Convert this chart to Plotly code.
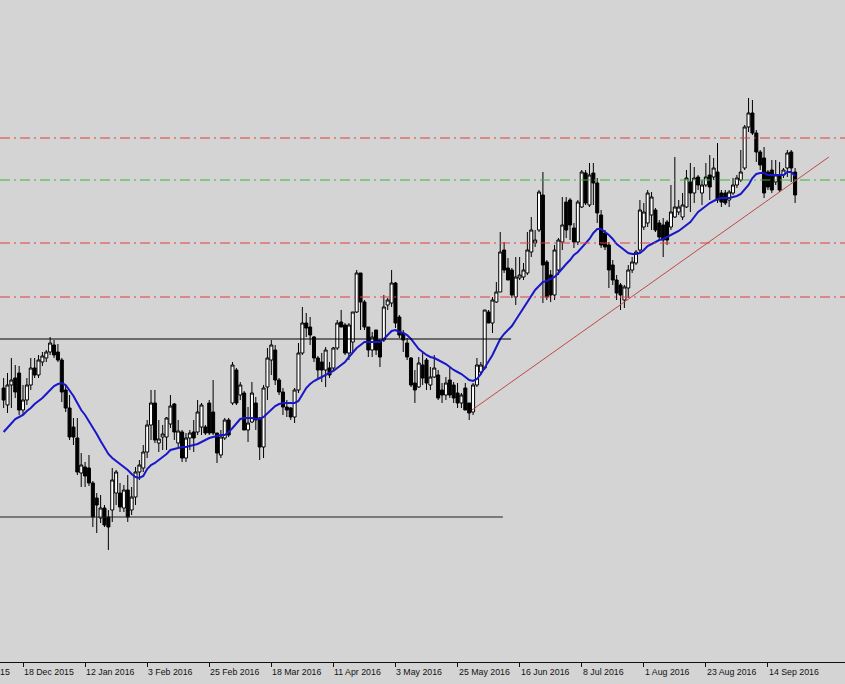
import plotly.graph_objects as go

# ---------------- data (daily bars, price in points) ----------------
bar_open = [
    612, 595, 615, 622, 627, 590, 600, 615, 632, 625,
    638, 642, 648, 655, 648, 640, 610, 592, 573, 562,
    527, 533, 532, 517, 502, 482, 492, 483, 490, 507,
    507, 492, 510, 490, 503, 528, 532, 548, 575, 597,
    557, 563, 563, 576, 596, 557, 568, 542, 562, 568,
    568, 573, 573, 597, 588, 567, 545, 562, 580, 597,
    630, 605, 607, 570, 578, 597, 582, 553, 613, 640,
    650, 620, 608, 593, 592, 583, 610, 647, 677, 673,
    663, 642, 638, 630, 632, 632, 652, 678, 675, 647,
    658, 688, 727, 698, 673, 650, 670, 660, 660, 695,
    697, 717, 683, 667, 657, 642, 617, 613, 635, 640,
    615, 623, 625, 610, 605, 620, 615, 607, 597, 612,
    597, 588, 615, 628, 632, 688, 677, 698, 708, 750,
    732, 730, 703, 722, 723, 727, 748, 757, 770, 805,
    738, 725, 705, 730, 758, 798, 800, 772, 758, 793,
    827, 795, 827, 817, 785, 767, 755, 735, 720, 715,
    700, 712, 730, 737, 750, 773, 777, 785, 790, 777,
    775, 778, 773, 783, 788, 783, 793, 818, 807, 823,
    807, 815, 825, 823, 828, 807, 807, 800, 807, 815,
    820, 832, 873, 887, 867, 848, 842, 828, 830, 818,
    825, 825, 832, 848, 828,
]
bar_high = [
    622, 627, 642, 635, 634, 615, 622, 642, 642, 645,
    648, 650, 663, 660, 656, 642, 615, 605, 582, 582,
    547, 538, 545, 519, 507, 505, 495, 490, 532, 530,
    517, 515, 525, 513, 533, 540, 555, 580, 610, 610,
    580, 575, 583, 605, 597, 580, 570, 567, 570, 580,
    600, 597, 575, 600, 620, 567, 570, 582, 582, 638,
    632, 618, 609, 593, 618, 603, 583, 615, 652, 660,
    655, 622, 612, 600, 593, 612, 657, 693, 687, 683,
    664, 644, 647, 653, 638, 653, 680, 690, 677, 677,
    688, 730, 727, 700, 673, 668, 670, 660, 705, 702,
    730, 718, 685, 670, 662, 643, 630, 643, 648, 642,
    633, 645, 630, 617, 623, 633, 618, 617, 607, 617,
    597, 617, 642, 638, 690, 690, 703, 718, 768, 758,
    742, 732, 743, 743, 737, 768, 783, 770, 810, 828,
    740, 730, 755, 762, 803, 803, 802, 777, 800, 830,
    830, 837, 837, 822, 790, 770, 758, 740, 725, 717,
    715, 735, 743, 750, 800, 797, 810, 808, 792, 780,
    782, 780, 815, 843, 800, 807, 830, 837, 833, 825,
    820, 837, 845, 842, 857, 810, 810, 810, 822, 825,
    850, 875, 902, 900, 870, 850, 853, 830, 840, 840,
    838, 832, 850, 850, 832,
]
bar_low = [
    592, 587, 592, 602, 585, 585, 595, 610, 622, 622,
    634, 638, 645, 642, 638, 598, 588, 560, 555, 525,
    513, 513, 514, 473, 467, 477, 473, 450, 478, 495,
    488, 488, 478, 485, 495, 520, 528, 542, 560, 557,
    548, 550, 550, 572, 560, 553, 538, 538, 550, 548,
    565, 565, 565, 565, 565, 537, 542, 560, 563, 595,
    595, 600, 570, 558, 577, 570, 540, 542, 600, 625,
    615, 605, 585, 583, 580, 577, 607, 645, 663, 655,
    638, 622, 618, 613, 622, 630, 650, 673, 645, 640,
    648, 687, 670, 670, 643, 643, 645, 633, 658, 690,
    693, 672, 662, 648, 640, 613, 597, 612, 615, 610,
    610, 622, 600, 597, 600, 602, 597, 592, 592, 590,
    580, 585, 613, 625, 630, 677, 667, 697, 708, 727,
    720, 702, 695, 720, 720, 725, 743, 753, 768, 697,
    700, 698, 700, 725, 750, 762, 760, 752, 755, 792,
    795, 793, 795, 777, 752, 750, 712, 715, 700, 690,
    692, 702, 727, 735, 747, 770, 773, 770, 768, 760,
    743, 755, 770, 782, 785, 780, 792, 788, 797, 810,
    795, 813, 800, 820, 797, 793, 795, 793, 805, 812,
    818, 830, 868, 865, 838, 830, 802, 810, 807, 815,
    808, 822, 823, 818, 797,
]
bar_close = [
    600, 615, 620, 608, 590, 600, 615, 632, 625, 640,
    644, 648, 657, 645, 640, 608, 592, 563, 563, 528,
    535, 524, 517, 483, 495, 492, 475, 473, 520, 528,
    493, 510, 483, 503, 528, 535, 548, 575, 597, 560,
    561, 566, 582, 594, 568, 569, 542, 562, 567, 562,
    588, 595, 567, 567, 567, 547, 563, 580, 565, 635,
    597, 615, 570, 577, 607, 580, 553, 612, 642, 655,
    620, 608, 593, 590, 583, 610, 647, 677, 672, 665,
    642, 630, 630, 650, 625, 652, 677, 673, 647, 675,
    688, 727, 698, 673, 650, 663, 650, 643, 693, 700,
    717, 677, 665, 660, 643, 615, 610, 637, 622, 617,
    623, 632, 602, 605, 617, 605, 602, 597, 605, 590,
    587, 615, 635, 635, 690, 677, 700, 708, 748, 730,
    720, 705, 723, 725, 730, 750, 770, 760, 808, 735,
    703, 705, 750, 760, 775, 770, 775, 758, 798, 828,
    797, 825, 817, 787, 755, 753, 730, 720, 707, 705,
    713, 730, 738, 748, 790, 788, 807, 803, 770, 763,
    760, 760, 788, 793, 793, 795, 822, 807, 822, 815,
    815, 823, 813, 832, 800, 798, 797, 808, 815, 822,
    828, 873, 887, 867, 848, 835, 807, 813, 810, 825,
    810, 830, 847, 832, 805,
]
moving_average = [
    568, 572, 577, 581, 583, 585, 589, 592, 596, 599,
    602, 606, 610, 614, 616, 617, 615, 610, 604, 597,
    590, 585, 579, 573, 566, 559, 553, 546, 542, 539,
    536, 533, 530, 526, 523, 522, 524, 531, 535, 537,
    540, 543, 546, 550, 551, 552, 553, 553, 554, 555,
    556, 558, 560, 562, 563, 564, 565, 565, 568, 572,
    577, 581, 582, 582, 582, 581, 581, 583, 587, 591,
    594, 596, 597, 597, 597, 597, 599, 606, 612, 616,
    619, 621, 623, 625, 627, 629, 632, 635, 638, 643,
    648, 652, 655, 658, 658, 658, 658, 658, 661, 665,
    669, 670, 668, 667, 665, 661, 656, 651, 648, 645,
    643, 642, 640, 638, 636, 633, 630, 628, 626, 623,
    620, 619, 621, 626, 632, 638, 645, 653, 661, 666,
    670, 674, 680, 686, 693, 698, 704, 710, 714, 718,
    719, 721, 723, 727, 732, 736, 740, 745, 748, 752,
    756, 761, 767, 771, 771, 768, 765, 761, 756, 753,
    750, 747, 746, 746, 747, 750, 754, 756, 758, 760,
    761, 763, 765, 767, 769, 772, 775, 778, 783, 788,
    791, 794, 797, 799, 801, 802, 802, 802, 803, 804,
    806, 810, 815, 822, 826, 827, 827, 825, 825, 825,
    825, 825, 828, 828, 824,
]

tick_bars = [5, 21, 37, 53, 69, 85, 101, 117, 133, 149, 165, 181, 197]
tick_labels = ["18 Dec 2015", "12 Jan 2016", "3 Feb 2016", "25 Feb 2016",
               "18 Mar 2016", "11 Apr 2016", "3 May 2016", "25 May 2016",
               "16 Jun 2016", "8 Jul 2016", "1 Aug 2016", "23 Aug 2016",
               "14 Sep 2016"]
previous_label = "26 Nov 2015"

red_levels = [862, 757, 703]
green_levels = [820]
range_top, range_top_end = 661, 130.8
range_bottom, range_bottom_end = 483, 128.7
trend_bars = [120.7, 212.7]
trend_prices = [590, 843]

# ---------------- figure ----------------
BG = "#d4d4d4"
bars = list(range(len(bar_open)))

fig = go.Figure()
fig.add_trace(go.Candlestick(
    x=bars, open=bar_open, high=bar_high, low=bar_low, close=bar_close,
    increasing=dict(fillcolor="white", line=dict(color="black", width=1)),
    decreasing=dict(fillcolor="black", line=dict(color="black", width=1)),
    whiskerwidth=0, hoverinfo="skip", showlegend=False,
))
fig.add_trace(go.Scatter(
    x=bars, y=moving_average, mode="lines",
    line=dict(color="#1818c8", width=2), hoverinfo="skip", showlegend=False,
))
fig.add_trace(go.Scatter(
    x=[-1, range_top_end], y=[range_top, range_top], mode="lines",
    line=dict(color="black", width=1), hoverinfo="skip", showlegend=False,
))
fig.add_trace(go.Scatter(
    x=[-1, range_bottom_end], y=[range_bottom, range_bottom], mode="lines",
    line=dict(color="#202020", width=1), hoverinfo="skip", showlegend=False,
))
fig.add_trace(go.Scatter(
    x=trend_bars, y=trend_prices, mode="lines",
    line=dict(color="#c04848", width=1), hoverinfo="skip", showlegend=False,
))

dashdot = "10px,4px,2px,4px"
for lvl in red_levels:
    fig.add_shape(type="line", xref="paper", x0=0, x1=1, yref="y", y0=lvl, y1=lvl,
                  line=dict(color="#e03c3c", width=1, dash=dashdot))
for lvl in green_levels:
    fig.add_shape(type="line", xref="paper", x0=0, x1=1, yref="y", y0=lvl, y1=lvl,
                  line=dict(color="#3cb43c", width=1, dash=dashdot))

font = dict(family="Liberation Sans, Arial, sans-serif", size=8.8, color="#111111")
for tb, tl in zip(tick_bars, tick_labels):
    fig.add_annotation(x=tb, xref="x", y=0, yref="paper", text=tl, showarrow=False,
                       xanchor="left", yanchor="top", yshift=-3, xshift=-1, font=font)
fig.add_annotation(x=0, xref="paper", y=0, yref="paper", text=previous_label,
                   showarrow=False, xanchor="right", yanchor="top", yshift=-3,
                   xshift=12, font=font)

fig.update_layout(
    width=845, height=684,
    margin=dict(l=0, r=0, t=0, b=22),
    paper_bgcolor=BG, plot_bgcolor=BG,
    boxgap=0.22, boxgroupgap=0,
    showlegend=False,
    xaxis=dict(range=[-0.93, 216.86], showgrid=False, zeroline=False,
               showline=True, linecolor="#111111", linewidth=1,
               tickvals=tick_bars, ticks="outside", ticklen=4, tickcolor="#111111",
               showticklabels=False, rangeslider=dict(visible=False), fixedrange=True),
    yaxis=dict(range=[338, 1000], visible=False, showgrid=False, zeroline=False,
               fixedrange=True),
)

fig.write_html(
    "out.html",
    config={"displayModeBar": False},
    post_script="document.body.style.margin='0';document.body.style.background='%s';" % BG,
)
